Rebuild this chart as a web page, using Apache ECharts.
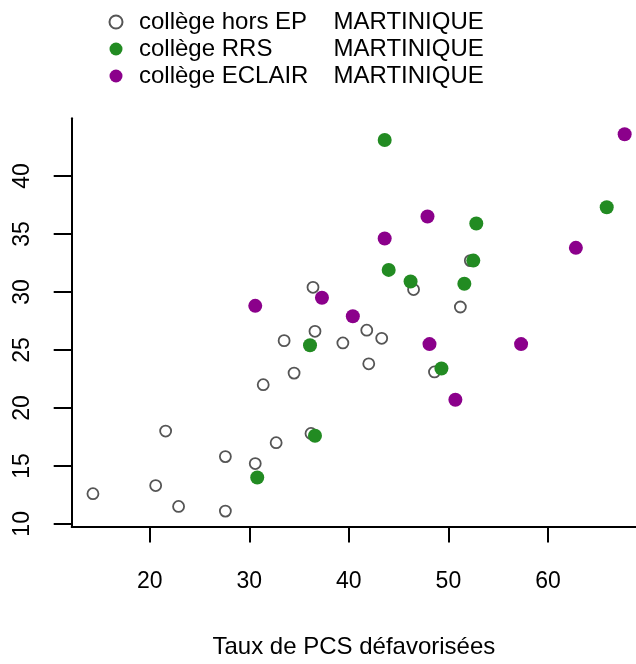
<!DOCTYPE html>
<html>
<head>
<meta charset="utf-8">
<script src="https://cdn.jsdelivr.net/npm/echarts@6/dist/echarts.min.js"></script>
<style>
  html, body { margin: 0; padding: 0; background: #fff; }
  #chart { width: 636px; height: 664px; }
</style>
</head>
<body>
<div id="chart"></div>
<script>
// ---- data ----
const seriesNames = ['collège hors EP', 'collège RRS', 'collège ECLAIR'];
const regionLabel = 'MARTINIQUE';
const xTicks = [20, 30, 40, 50, 60];
const yTicks = [10, 15, 20, 25, 30, 35, 40];
const xTitle = 'Taux de PCS défavorisées';

const horsEP_x = [14.3, 20.6, 22.9, 27.6, 21.6, 27.6, 30.6, 32.7, 31.4, 34.5, 33.5, 36.4, 36.6, 36.2, 39.4, 41.8, 43.3, 42.0, 46.5, 51.2, 52.2, 48.6];
const horsEP_y = [12.6, 13.3, 11.5, 11.1, 18.0, 15.8, 15.2, 17.0, 22.0, 23.0, 25.8, 30.4, 26.6, 17.8, 25.6, 26.7, 26.0, 23.8, 30.2, 28.7, 32.7, 23.1];

const rrs_x = [30.8, 36.1, 36.6, 43.6, 52.8, 65.9, 44.0, 46.2, 52.5, 51.6, 49.3];
const rrs_y = [14.0, 25.4, 17.6, 43.1, 35.9, 37.3, 31.9, 30.9, 32.7, 30.7, 23.4];

const eclair_x = [30.6, 67.7, 47.9, 43.6, 62.8, 37.3, 40.4, 48.1, 57.3, 50.7];
const eclair_y = [28.8, 43.6, 36.5, 34.6, 33.8, 29.5, 27.9, 25.5, 25.5, 20.7];

const zip = (xs, ys) => xs.map((x, i) => [x, ys[i]]);
const FONT = 'Liberation Sans, Arial, sans-serif';

const chart = echarts.init(document.getElementById('chart'), null, { renderer: 'canvas' });
chart.setOption({
  backgroundColor: '#fff',
  animation: false,
  textStyle: { fontFamily: FONT },
  grid: { left: 71.7, right: 0, top: 118.3, bottom: 131.5, containLabel: false },
  legend: {
    orient: 'vertical',
    left: 108.5,
    top: 10,
    padding: 0,
    itemWidth: 13,
    itemHeight: 13,
    itemGap: 3,
    data: seriesNames,
    formatter: function (name) { return '{a|' + name + '}{b|' + regionLabel + '}'; },
    textStyle: {
      fontFamily: FONT, fontSize: 24, color: '#000',
      rich: {
        a: { fontFamily: FONT, fontSize: 24, color: '#000', width: 194.5, padding: [0, 0, 0, 11.5], lineHeight: 24 },
        b: { fontFamily: FONT, fontSize: 24, color: '#000', lineHeight: 24 }
      }
    }
  },
  xAxis: {
    type: 'value',
    min: 12.166, max: 68.84,
    splitLine: { show: false },
    axisLine: { show: true, onZero: false, lineStyle: { color: '#000', width: 2 } },
    axisTick: { show: true, length: 15.5, customValues: xTicks, lineStyle: { color: '#000', width: 2 } },
    axisLabel: { customValues: xTicks, margin: 43, fontSize: 23, color: '#000', fontFamily: FONT },
    name: xTitle,
    nameLocation: 'middle',
    nameGap: 108,
    nameTextStyle: { fontSize: 24, color: '#000', fontFamily: FONT }
  },
  yAxis: {
    type: 'value',
    min: 9.73, max: 44.97,
    splitLine: { show: false },
    axisLine: { show: true, onZero: false, lineStyle: { color: '#000', width: 2 } },
    axisTick: { show: true, length: 18, customValues: yTicks, lineStyle: { color: '#000', width: 2 } },
    axisLabel: { customValues: yTicks, rotate: 90, margin: 38, fontSize: 23, color: '#000', fontFamily: FONT }
  },
  series: [
    {
      name: seriesNames[0], type: 'scatter', data: zip(horsEP_x, horsEP_y),
      symbol: 'circle', symbolSize: 11,
      itemStyle: { color: '#ffffff', borderColor: '#555555', borderWidth: 1.8, opacity: 1 }
    },
    {
      name: seriesNames[1], type: 'scatter', data: zip(rrs_x, rrs_y),
      symbol: 'circle', symbolSize: 14,
      itemStyle: { color: '#228B22', opacity: 1 }
    },
    {
      name: seriesNames[2], type: 'scatter', data: zip(eclair_x, eclair_y),
      symbol: 'circle', symbolSize: 14,
      itemStyle: { color: '#8B008B', opacity: 1 }
    }
  ]
});
</script>
</body>
</html>
